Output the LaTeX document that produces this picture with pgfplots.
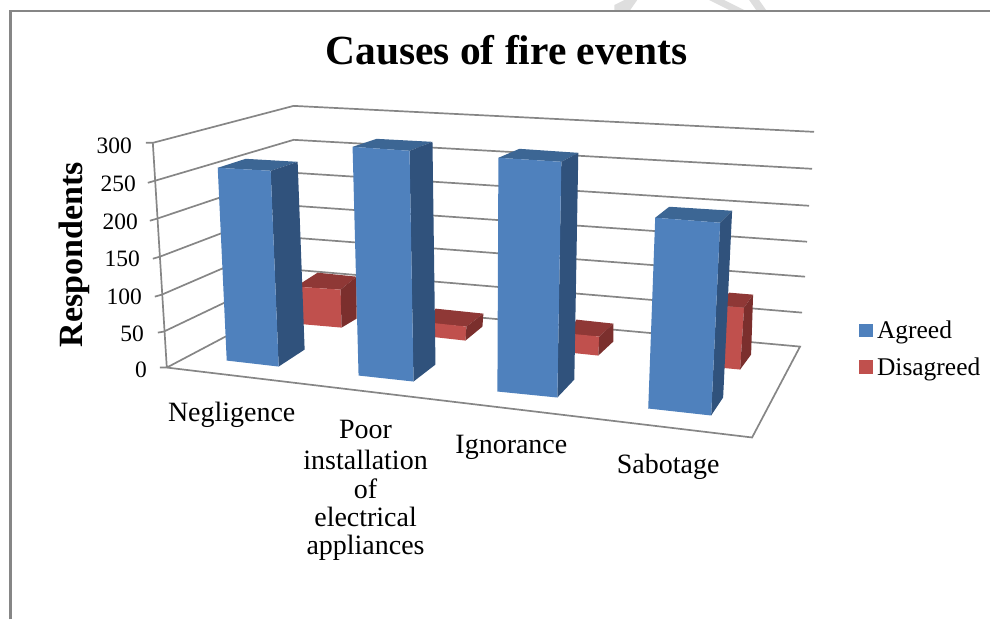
\documentclass[border=0pt]{standalone}
\usepackage{pgfplots}
\pgfplotsset{compat=1.18}
\usepackage{fontspec}
\setmainfont{Liberation Serif}
\definecolor{gridc}{HTML}{868686}
\definecolor{bF}{HTML}{4F81BD}
\definecolor{bT}{HTML}{3C6694}
\definecolor{bS}{HTML}{30527C}
\definecolor{rF}{HTML}{C0504D}
\definecolor{rT}{HTML}{8F3836}
\definecolor{rS}{HTML}{7B2F2D}
\newcommand{\fs}[1]{\fontsize{#1}{#1}\selectfont}
\begin{document}
\begin{tikzpicture}
\begin{axis}[
  scale only axis, width=991pt, height=620pt,
  xmin=0, xmax=991, ymin=0, ymax=620, y dir=reverse,
  hide axis, clip=false,
  axis on top=false,
  legend style={at={(axis cs:858,317)}, anchor=north west, draw=none, fill=none,
    font=\fs{25.5}, row sep=13.5pt, inner sep=2pt,
    /tikz/every even column/.style={column sep=2pt},
    /tikz/every odd column/.style={column sep=3pt}},
  legend cell align=left,
  legend image code/.code={\fill[#1] (0pt,-6pt) rectangle (12.5pt,6.5pt);},
]
% full canvas
\addplot[draw=none, forget plot] coordinates {(0,0) (991,620)};
% faint watermark fragments above the frame
\addplot[fill=black!13, draw=none, forget plot] coordinates {(615,5) (625,0) (638,0) (631,10) (615,10)} --cycle;
\addplot[fill=black!13, draw=none, forget plot] coordinates {(710,0) (725,0) (745,10) (730,10)} --cycle;
\addplot[fill=black!13, draw=none, forget plot] coordinates {(750,0) (760,0) (767,10) (757,10)} --cycle;
% page frame
\addplot[gridc, line width=2.4pt, forget plot] coordinates {(10.5,620) (10.5,11) (991,11)};
% back wall grid (300 ... 0)
\addplot[gridc, line width=1.7pt, forget plot] coordinates {(146,143) (153,143) (294,106) (815,132)};
\addplot[gridc, line width=1.7pt, forget plot] coordinates {(148,183) (155,181) (294,140) (813,169)};
\addplot[gridc, line width=1.7pt, forget plot] coordinates {(150,221) (157,219) (294,173) (810,206)};
\addplot[gridc, line width=1.7pt, forget plot] coordinates {(153,259) (160,257) (294,206) (808,242)};
\addplot[gridc, line width=1.7pt, forget plot] coordinates {(155,297) (162,295) (294,238) (806,277)};
\addplot[gridc, line width=1.7pt, forget plot] coordinates {(158,333) (164,332) (294,270) (803,313)};
\addplot[gridc, line width=1.7pt, forget plot] coordinates {(160,368) (167,368) (294,301) (801,347) (753,438) (167,368) (153,143)};
% Disagreed bars
\addplot[fill=rT, draw=none, forget plot] coordinates {(296,287) (318,273) (357,277) (341,290)} --cycle;
\addplot[fill=rF, draw=none, forget plot] coordinates {(296,287) (341,290) (342,328) (296,324)} --cycle;
\addplot[fill=rS, draw=none, forget plot] coordinates {(341,290) (357,277) (357,319) (342,328)} --cycle;
\addplot[fill=rT, draw=none, forget plot] coordinates {(430,324) (436,309) (484,314) (467,327)} --cycle;
\addplot[fill=rF, draw=none, forget plot] coordinates {(430,323) (467,327) (466,341) (430,337)} --cycle;
\addplot[fill=rS, draw=none, forget plot] coordinates {(467,327) (484,314) (483,327) (466,341)} --cycle;
\addplot[fill=rT, draw=none, forget plot] coordinates {(570,335) (577,320) (614,324) (600,337)} --cycle;
\addplot[fill=rF, draw=none, forget plot] coordinates {(570,334) (600,337) (599,356) (570,353)} --cycle;
\addplot[fill=rS, draw=none, forget plot] coordinates {(600,337) (614,324) (614,342) (599,356)} --cycle;
\addplot[fill=rT, draw=none, forget plot] coordinates {(720,306) (730,293) (754,295) (745,308)} --cycle;
\addplot[fill=rF, draw=none, forget plot] coordinates {(720,306) (745,308) (741,370) (720,368)} --cycle;
\addplot[fill=rS, draw=none, forget plot] coordinates {(745,308) (754,295) (752,355) (741,370)} --cycle;
% Agreed bars
\addplot[fill=bT, draw=none, forget plot] coordinates {(218,168) (246,159) (298,162) (271,171)} --cycle;
\addplot[fill=bS, draw=none, forget plot] coordinates {(271,171) (298,162) (305,350) (279,367)} --cycle;
\addplot[fill=bF, draw=none, forget plot] coordinates {(218,168) (271,171) (279,367) (227,361)} --cycle;
\addplot[fill=bT, draw=none, forget plot] coordinates {(353,147) (377,139) (433,142) (410,151)} --cycle;
\addplot[fill=bS, draw=none, forget plot] coordinates {(410,151) (433,142) (436,365) (414,382)} --cycle;
\addplot[fill=bF, draw=none, forget plot] coordinates {(353,147) (410,151) (414,382) (359,376)} --cycle;
\addplot[fill=bT, draw=none, forget plot] coordinates {(499,158) (520,149) (579,153) (562,162)} --cycle;
\addplot[fill=bS, draw=none, forget plot] coordinates {(562,162) (579,153) (575,380) (558,398)} --cycle;
\addplot[fill=bF, draw=none, forget plot] coordinates {(499,158) (562,162) (558,398) (498,392)} --cycle;
\addplot[fill=bT, draw=none, forget plot] coordinates {(656,218) (670,207) (733,211) (721,223)} --cycle;
\addplot[fill=bS, draw=none, forget plot] coordinates {(721,223) (733,211) (724,398) (712,416)} --cycle;
\addplot[fill=bF, draw=none, forget plot] coordinates {(656,218) (721,223) (712,416) (649,409)} --cycle;
% legend
\addlegendimage{bF}\addlegendentry{Agreed}
\addlegendimage{rF}\addlegendentry{Disagreed}
% text
\node[font=\fs{41.5}\bfseries] at (axis cs:507,50) {Causes of fire events};
\node[font=\fs{34}\bfseries, rotate=90] at (axis cs:74,255) {Respondents};
\node[font=\fs{23.5}, anchor=east] at (axis cs:135.5,146) {300};
\node[font=\fs{23.5}, anchor=east] at (axis cs:139.5,184) {250};
\node[font=\fs{23.5}, anchor=east] at (axis cs:141.5,222) {200};
\node[font=\fs{23.5}, anchor=east] at (axis cs:143.5,259) {150};
\node[font=\fs{23.5}, anchor=east] at (axis cs:145.5,297) {100};
\node[font=\fs{23.5}, anchor=east] at (axis cs:147.5,334) {50};
\node[font=\fs{23.5}, anchor=east] at (axis cs:150.5,370) {0};
\node[font=\fs{28}] at (axis cs:232,415) {Negligence};
\node[font=\fs{28}] at (axis cs:366,430) {Poor};
\node[font=\fs{28}] at (axis cs:366,460) {installation};
\node[font=\fs{28}] at (axis cs:366,489) {of};
\node[font=\fs{28}] at (axis cs:366,518) {electrical};
\node[font=\fs{28}] at (axis cs:366,548) {appliances};
\node[font=\fs{28}] at (axis cs:512,448) {Ignorance};
\node[font=\fs{28}] at (axis cs:669,467) {Sabotage};
\end{axis}
\end{tikzpicture}
\end{document}
